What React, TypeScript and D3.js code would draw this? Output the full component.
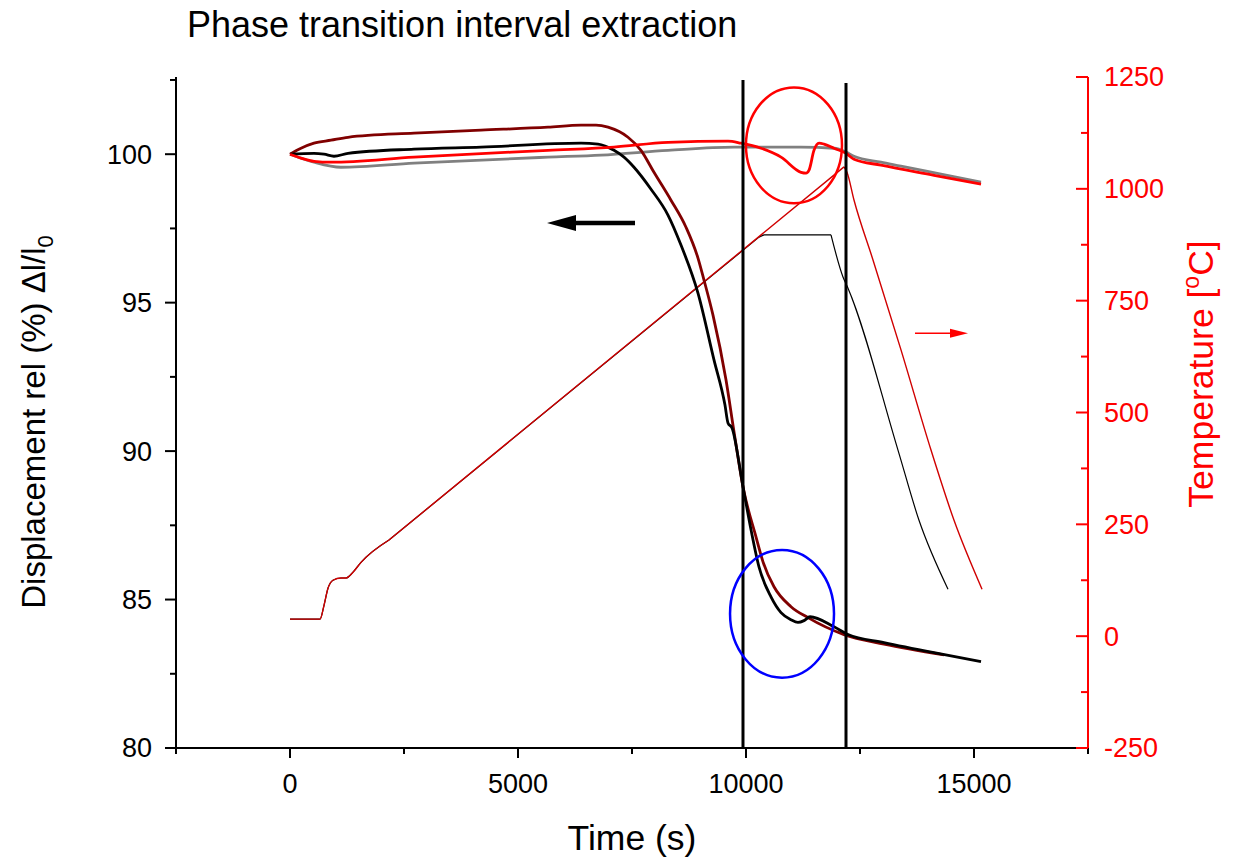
import React from "react";
import * as d3 from "d3";

// ---------- data ----------
// Displacement, sample A (dark red)
const timeA = [0, 241, 526, 899, 1272, 2719, 4189, 5658, 6382, 6711, 6974, 7412, 7697, 7982, 8355, 8684, 8947, 9079, 9276, 9561, 9737, 9934, 10219, 10373, 10614, 10987, 11360, 12149, 13026, 14342];
const dispA = [100, 100.2, 100.37, 100.47, 100.57, 100.71, 100.81, 100.91, 100.98, 100.98, 100.91, 100.57, 100.13, 99.39, 98.45, 97.54, 96.5, 95.76, 94.58, 92.4, 90.65, 88.8, 87.11, 86.27, 85.43, 84.76, 84.39, 83.82, 83.5, 83.14];

// Displacement, sample B (black)
const timeB = [0, 526, 746, 965, 1272, 2719, 4189, 6382, 6754, 7105, 7325, 7544, 7917, 8289, 8574, 8947, 9298, 9539, 9605, 9693, 9934, 10110, 10285, 10548, 10768, 10987, 11140, 11272, 11404, 11930, 12237, 13026, 14123, 15154];
const dispB = [100, 100.03, 100, 99.93, 100.03, 100.17, 100.24, 100.37, 100.34, 100.13, 99.9, 99.56, 98.82, 97.95, 96.94, 95.32, 93.07, 91.55, 90.95, 90.78, 88.8, 87.35, 86.1, 85.09, 84.56, 84.32, 84.23, 84.29, 84.42, 84.08, 83.82, 83.55, 83.21, 82.91];

// Displacement, sample C (red)
const timeC = [0, 241, 526, 899, 2719, 5658, 7105, 8289, 9605, 9890, 10329, 10768, 11206, 11316, 11382, 11491, 11601, 11711, 11930, 12193, 12368, 12960, 14123, 15154];
const dispC = [100, 99.87, 99.76, 99.73, 99.9, 100.13, 100.24, 100.4, 100.44, 100.37, 100.2, 99.9, 99.39, 99.36, 99.46, 100.13, 100.37, 100.34, 100.2, 100.03, 99.83, 99.63, 99.29, 98.99];

// Displacement, sample D (gray)
const timeD = [0, 526, 1118, 2719, 5658, 6820, 8289, 9737, 11206, 11930, 12193, 12368, 12960, 13399, 14276, 15154];
const dispD = [100, 99.73, 99.56, 99.7, 99.9, 99.97, 100.13, 100.24, 100.24, 100.2, 100.07, 99.93, 99.73, 99.6, 99.33, 99.06];

// Temperature program 1 (red, thin)
const timeT1 = [0, 658, 746, 833, 943, 1118, 1228, 1382, 1557, 2171, 12149, 12215, 12368, 12785, 13399, 14057, 14562, 15176];
const tempT1 = [38, 38, 69, 107, 125, 130, 130, 143, 165, 215, 1049, 1037, 975, 841, 640, 416, 259, 105];

// Temperature program 2 (black, thin)
const timeT2 = [0, 658, 746, 833, 943, 1118, 1228, 1382, 1557, 2171, 10285, 10395, 11864, 12127, 12237, 13333, 13794, 14430];
const tempT2 = [38, 38, 69, 107, 125, 130, 130, 143, 165, 215, 892, 897, 897, 803, 778, 416, 259, 105];

// Start of the constant-rate heating ramp (s)
const rampStart = 2171;

// Phase transition interval boundaries (time, top value on left axis)
const transitionTimes = [9934, 12193];
const transitionTops = [102.5, 102.4];

// Annotation ellipses: [centre time, centre displacement, half-width (s), half-height (%)]
const redEllipse = [11052, 100.3, 1053, 1.95];
const blueEllipse = [10790, 84.52, 1140, 2.15];

// Direction arrows: [from time, to time, value]
const leftArrow = [7566, 5636, 97.68];
const rightArrow = [13706, 14869, 677];

// Ticks
const xMajor = [0, 5000, 10000, 15000];
const xMinor = [-2500, 2500, 7500, 12500, 17500];
const yLMajor = [80, 85, 90, 95, 100];
const yLMinor = [82.5, 87.5, 92.5, 97.5, 102.5];
const yRMajor = [-250, 0, 250, 500, 750, 1000, 1250];
const yRMinor = [-125, 125, 375, 625, 875, 1125];

const FONT = "'Liberation Sans', Arial, Helvetica, sans-serif";

export default function App() {
  const L = 176, R = 1088, T = 77, B = 748;
  const x = d3.scaleLinear().domain([-2500, 17500]).range([L, R]);
  const yL = d3.scaleLinear().domain([80, 102.6]).range([B, T]);
  const yR = d3.scaleLinear().domain([-250, 1250]).range([B, T]);

  const pathL = (t: number[], v: number[]) =>
    d3.line<number>().x((_, i) => x(t[i])).y((d) => yL(d)).curve(d3.curveMonotoneX)(v) || "";

  // temperature: smooth start, straight ramp/hold, smooth cooling
  const pathR = (t: number[], v: number[]) => {
    const pts: [number, number][] = t.map((ti, i) => [x(ti), yR(v[i])]);
    const i0 = t.indexOf(rampStart);
    const maxV = d3.max(v) as number;
    const i1 = v.lastIndexOf(maxV);
    const mono = d3.line().curve(d3.curveMonotoneX);
    const lin = d3.line().curve(d3.curveLinear);
    return [mono(pts.slice(0, i0 + 1)), lin(pts.slice(i0, i1 + 1)), mono(pts.slice(i1))].join(" ");
  };

  const la = { x1: x(leftArrow[0]), x2: x(leftArrow[1]), y: yL(leftArrow[2]) };
  const ra = { x1: x(rightArrow[0]), x2: x(rightArrow[1]), y: yR(rightArrow[2]) };

  return (
    <svg width={1233} height={862} style={{ position: "absolute", left: 0, top: 0, background: "#fff" }} fontFamily={FONT}>
      <rect x={0} y={0} width={1233} height={862} fill="#fff" />
      {/* title */}
      <text x={187} y={37} fontSize={36} fill="#000">Phase transition interval extraction</text>

      {/* temperature curves */}
      <path d={pathR(timeT2, tempT2)} fill="none" stroke="#000" strokeWidth={1.2} strokeLinejoin="round" />
      <path d={pathR(timeT1, tempT1)} fill="none" stroke="#d00000" strokeWidth={1.4} strokeLinejoin="round" />

      {/* displacement curves */}
      <path d={pathL(timeD, dispD)} fill="none" stroke="#808080" strokeWidth={2.8} />
      <path d={pathL(timeA, dispA)} fill="none" stroke="#800000" strokeWidth={2.8} />
      <path d={pathL(timeB, dispB)} fill="none" stroke="#000" strokeWidth={2.8} />
      <path d={pathL(timeC, dispC)} fill="none" stroke="#ff0000" strokeWidth={2.8} />

      {/* transition interval lines */}
      {transitionTimes.map((t, i) => (
        <line key={i} x1={x(t)} x2={x(t)} y1={yL(transitionTops[i])} y2={B} stroke="#000" strokeWidth={3} />
      ))}

      {/* ellipses */}
      <ellipse cx={x(redEllipse[0])} cy={yL(redEllipse[1])}
        rx={x(redEllipse[0] + redEllipse[2]) - x(redEllipse[0])}
        ry={yL(redEllipse[1] - redEllipse[3]) - yL(redEllipse[1])}
        fill="none" stroke="#ff0000" strokeWidth={2.5} />
      <ellipse cx={x(blueEllipse[0])} cy={yL(blueEllipse[1])}
        rx={x(blueEllipse[0] + blueEllipse[2]) - x(blueEllipse[0])}
        ry={yL(blueEllipse[1] - blueEllipse[3]) - yL(blueEllipse[1])}
        fill="none" stroke="#0000ff" strokeWidth={2.5} />

      {/* arrows */}
      <line x1={la.x1} x2={la.x2 + 25} y1={la.y} y2={la.y} stroke="#000" strokeWidth={4.5} />
      <polygon points={`${la.x2},${la.y} ${la.x2 + 29},${la.y - 8} ${la.x2 + 29},${la.y + 8}`} fill="#000" />
      <line x1={ra.x1} x2={ra.x2 - 15} y1={ra.y} y2={ra.y} stroke="#ff0000" strokeWidth={1.5} />
      <polygon points={`${ra.x2},${ra.y} ${ra.x2 - 18},${ra.y - 4.5} ${ra.x2 - 18},${ra.y + 4.5}`} fill="#ff0000" />

      {/* left axis */}
      <line x1={L} x2={L} y1={T} y2={B + 1} stroke="#000" strokeWidth={2} />
      {yLMajor.map((v) => (
        <g key={"lm" + v}>
          <line x1={L - 11} x2={L} y1={yL(v)} y2={yL(v)} stroke="#000" strokeWidth={2} />
          <text x={152} y={yL(v)} dy="0.35em" fontSize={27} textAnchor="end" fill="#000">{v}</text>
        </g>
      ))}
      {yLMinor.map((v) => (
        <line key={"ln" + v} x1={L - 6} x2={L} y1={yL(v)} y2={yL(v)} stroke="#000" strokeWidth={2} />
      ))}

      {/* bottom axis */}
      <line x1={L - 1} x2={R} y1={B} y2={B} stroke="#000" strokeWidth={2} />
      {xMajor.map((v) => (
        <g key={"bm" + v}>
          <line x1={x(v)} x2={x(v)} y1={B} y2={B + 10} stroke="#000" strokeWidth={2} />
          <text x={x(v)} y={793} fontSize={27} textAnchor="middle" fill="#000">{v}</text>
        </g>
      ))}
      {xMinor.map((v) => (
        <line key={"bn" + v} x1={x(v)} x2={x(v)} y1={B} y2={B + 6} stroke="#000" strokeWidth={2} />
      ))}

      {/* right axis */}
      <line x1={R} x2={R} y1={T} y2={B} stroke="#ff0000" strokeWidth={2} />
      {yRMajor.map((v) => (
        <g key={"rm" + v}>
          <line x1={R - 12} x2={R} y1={yR(v)} y2={yR(v)} stroke="#ff0000" strokeWidth={2} />
          <text x={1104} y={yR(v)} dy="0.35em" fontSize={27} textAnchor="start" fill="#ff0000">{v}</text>
        </g>
      ))}
      {yRMinor.map((v) => (
        <line key={"rn" + v} x1={R - 7} x2={R} y1={yR(v)} y2={yR(v)} stroke="#ff0000" strokeWidth={2} />
      ))}

      {/* axis titles */}
      <text x={632} y={850} fontSize={35.5} textAnchor="middle" fill="#000">Time (s)</text>
      <text transform="translate(45,422) rotate(-90)" fontSize={33} textAnchor="middle" fill="#000">
        Displacement rel (%) Δl/l<tspan fontSize={22} dy="8">0</tspan>
      </text>
      <text transform="translate(1213,374) rotate(-90)" fontSize={35.5} textAnchor="middle" fill="#ff0000">
        Temperature [<tspan fontSize={23} dy="-14">o</tspan><tspan dy="14">C]</tspan>
      </text>
    </svg>
  );
}
